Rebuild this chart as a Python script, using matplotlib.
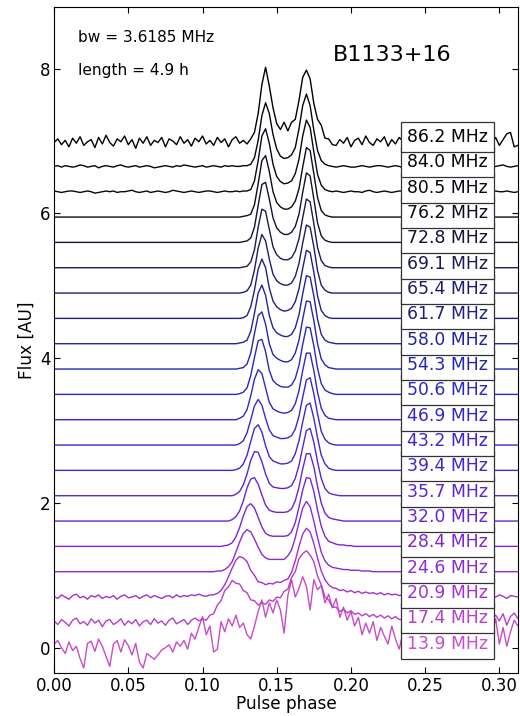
import numpy as np
import matplotlib.pyplot as plt
from matplotlib.colors import LinearSegmentedColormap

# observing frequencies (MHz), lowest first
freqs = [13.9, 17.4, 20.9, 24.6, 28.4, 32.0, 35.7, 39.4, 43.2, 46.9, 50.6,
         54.3, 58.0, 61.7, 65.4, 69.1, 72.8, 76.2, 80.5, 84.0, 86.2]

nbins = 126        # bins shown, 0 .. 0.3125 in phase
dphase = 0.0025    # phase per bin
spacing = 0.35     # vertical offset between channels

# noisy channels, stored bin by bin
p139 = [0.05, 0.10, 0.00, -0.08, 0.08, -0.04, 0.02, -0.15, -0.28, 0.06,
        0.09, -0.05, 0.12, 0.02, -0.12, -0.26, 0.05, 0.10, -0.06, 0.11,
        0.03, -0.10, 0.06, -0.20, -0.28, -0.08, -0.12, -0.16, -0.10, -0.03,
        0.00, 0.04, -0.06, 0.08, 0.02, 0.10, -0.02, 0.20, 0.12, 0.28,
        0.43, 0.18, 0.30, -0.06, -0.02, 0.36, 0.22, 0.40, 0.30, 0.45,
        0.28, 0.34, 0.18, 0.12, 0.30, 0.50, 0.66, 0.42, 0.62, 0.48,
        0.66, 0.52, 0.20, 0.72, 0.94, 0.70, 0.82, 0.98, 0.85, 0.52,
        0.94, 0.80, 0.86, 0.62, 0.74, 0.55, 0.68, 0.42, 0.56, 0.38,
        0.50, 0.30, 0.42, 0.18, 0.34, 0.20, 0.36, 0.10, 0.28, 0.16,
        0.05, 0.30, 0.12, -0.02, 0.20, 0.05, 0.25, 0.10, 0.30, 0.15,
        0.02, 0.22, 0.12, 0.28, 0.08, 0.18, 0.30, 0.10, 0.24, 0.05,
        0.20, 0.32, 0.12, 0.26, 0.06, 0.22, 0.14, 0.35, 0.18, 0.40,
        0.05, 0.28, 0.02, 0.22, 0.38, 0.30]
p174 = [0.02, -0.03, 0.04, 0.00, -0.05, 0.03, 0.06, -0.02, 0.01, -0.04,
        0.05, -0.01, 0.03, -0.06, 0.02, 0.04, -0.03, 0.00, 0.05, -0.04,
        0.02, -0.02, 0.04, -0.05, 0.01, 0.03, -0.03, 0.05, -0.01, 0.02,
        -0.04, 0.03, 0.06, -0.02, 0.01, 0.04, -0.03, 0.03, 0.06, 0.02,
        0.05, 0.03, 0.10, 0.12, 0.24, 0.30, 0.44, 0.49, 0.58, 0.54,
        0.53, 0.44, 0.41, 0.31, 0.30, 0.24, 0.27, 0.25, 0.31, 0.29,
        0.35, 0.34, 0.43, 0.46, 0.62, 0.70, 0.88, 0.95, 0.99, 0.93,
        0.84, 0.64, 0.52, 0.35, 0.31, 0.21, 0.21, 0.15, 0.18, 0.13,
        0.16, 0.11, 0.13, 0.09, 0.12, 0.08, 0.11, 0.07, 0.10, 0.06,
        0.09, 0.05, 0.08, 0.04, 0.04, 0.01, 0.06, 0.02, -0.02, 0.05,
        0.03, 0.00, 0.04, -0.03, 0.06, 0.02, 0.05, -0.01, 0.03, 0.07,
        0.00, 0.04, -0.02, 0.05, 0.02, 0.06, -0.01, 0.03, 0.04, 0.10,
        0.02, 0.12, -0.04, 0.08, 0.13, 0.05]
p209 = [0.01, -0.02, 0.03, 0.00, -0.03, 0.02, 0.04, -0.01, 0.01, -0.03,
        0.02, 0.00, 0.03, -0.02, 0.01, -0.01, 0.02, -0.03, 0.01, 0.03,
        -0.01, 0.00, 0.02, -0.02, 0.01, 0.03, -0.01, 0.02, 0.00, -0.02,
        0.01, 0.02, -0.01, 0.03, 0.00, 0.02, 0.01, 0.03, 0.02, 0.04,
        0.02, 0.01, 0.03, 0.03, 0.05, 0.09, 0.17, 0.28, 0.40, 0.51,
        0.56, 0.54, 0.49, 0.37, 0.30, 0.21, 0.20, 0.17, 0.19, 0.18,
        0.21, 0.20, 0.23, 0.25, 0.34, 0.50, 0.70, 0.87, 0.95, 0.90,
        0.74, 0.54, 0.36, 0.24, 0.17, 0.13, 0.12, 0.09, 0.10, 0.07,
        0.09, 0.06, 0.08, 0.05, 0.07, 0.05, 0.06, 0.04, 0.06, 0.03,
        0.05, 0.03, 0.04, 0.02, 0.03, 0.02, 0.02, 0.00, 0.03, 0.01,
        -0.01, 0.02, 0.00, 0.03, 0.01, -0.02, 0.02, 0.01, 0.03, 0.00,
        0.02, -0.01, 0.01, 0.03, 0.00, 0.02, 0.01, -0.01, 0.02, 0.00,
        0.03, 0.01, -0.02, 0.02, 0.01, 0.00]
p805 = [0.01, 0.00, -0.01, 0.00, 0.01, 0.01, 0.00, -0.01, 0.00, 0.01,
        0.00, -0.02, -0.01, 0.00, 0.01, 0.00, 0.01, -0.01, 0.00, 0.00,
        0.01, 0.02, 0.00, -0.01, 0.00, 0.01, -0.01, 0.00, 0.01, 0.00,
        -0.01, 0.00, 0.02, 0.01, 0.00, -0.01, 0.00, 0.01, 0.00, -0.01,
        0.00, 0.01, 0.01, 0.00, -0.01, 0.00, 0.01, 0.00, 0.00, 0.01,
        0.00, 0.01, 0.01, 0.03, 0.15, 0.43, 0.77, 0.87, 0.67, 0.38,
        0.21, 0.14, 0.11, 0.12, 0.15, 0.25, 0.45, 0.77, 0.99, 0.89,
        0.55, 0.24, 0.09, 0.03, 0.01, 0.00, 0.01, 0.00, -0.01, 0.00,
        0.01, 0.00, 0.00, -0.01, 0.01, 0.02, 0.00, -0.01, 0.00, 0.01,
        0.00, -0.01, 0.00, 0.01, 0.01, 0.00, -0.01, 0.00, 0.01, 0.00,
        0.00, 0.01, -0.01, 0.00, 0.01, 0.00, -0.01, 0.01, 0.00, 0.00,
        0.01, 0.00, -0.01, 0.00, 0.01, 0.01, 0.00, -0.01, 0.00, 0.01,
        0.00, 0.00, 0.01, 0.00, -0.01, 0.00]
p840 = [0.00, 0.01, -0.01, 0.01, 0.00, -0.01, 0.00, 0.02, 0.01, -0.01,
        0.00, 0.01, -0.02, 0.00, 0.01, 0.00, -0.01, 0.01, 0.02, 0.00,
        -0.01, 0.00, 0.01, -0.01, 0.00, 0.01, 0.00, -0.02, -0.01, 0.00,
        0.01, 0.00, -0.01, 0.01, 0.00, 0.02, 0.01, 0.00, -0.01, 0.00,
        0.01, -0.01, 0.00, 0.01, 0.00, -0.01, 0.01, 0.00, 0.01, 0.00,
        0.00, 0.01, 0.01, 0.03, 0.12, 0.36, 0.70, 0.88, 0.73, 0.44,
        0.24, 0.14, 0.11, 0.12, 0.16, 0.26, 0.52, 0.84, 1.00, 0.84,
        0.50, 0.22, 0.08, 0.03, 0.01, 0.00, -0.01, 0.00, 0.01, 0.00,
        -0.01, -0.01, 0.00, 0.01, 0.00, -0.01, 0.00, 0.01, 0.01, 0.00,
        -0.01, 0.00, 0.01, 0.00, -0.02, -0.01, 0.00, 0.01, 0.00, 0.00,
        -0.01, 0.01, 0.02, 0.01, 0.00, -0.01, 0.00, 0.01, 0.00, -0.01,
        0.00, 0.01, 0.00, 0.01, -0.01, 0.00, 0.01, 0.00, -0.01, 0.00,
        0.01, 0.02, 0.00, -0.01, 0.00, 0.01]
p862 = [-0.02, 0.03, -0.05, 0.01, -0.08, 0.04, -0.03, 0.06, -0.06, -0.01,
        0.02, -0.09, 0.05, -0.04, 0.08, -0.02, -0.07, 0.03, -0.01, 0.07,
        -0.05, 0.02, -0.10, 0.04, -0.03, 0.06, -0.06, 0.01, -0.02, 0.05,
        -0.08, 0.03, 0.00, -0.05, 0.06, -0.03, 0.02, -0.07, 0.04, -0.01,
        0.07, -0.04, 0.01, -0.06, 0.05, -0.02, 0.03, -0.08, 0.02, 0.06,
        -0.03, 0.01, -0.04, 0.03, 0.12, 0.38, 0.78, 1.02, 0.76, 0.46,
        0.24, 0.16, 0.26, 0.14, 0.26, 0.30, 0.56, 0.88, 0.98, 0.86,
        0.52, 0.30, 0.22, 0.04, 0.03, -0.05, -0.06, 0.02, -0.03, 0.05,
        -0.08, 0.01, 0.04, -0.05, 0.07, -0.02, -0.06, 0.03, -0.01, 0.06,
        -0.07, 0.02, -0.04, 0.05, 0.00, -0.08, 0.04, -0.02, 0.06, -0.05,
        0.01, -0.03, 0.07, -0.06, 0.02, -0.01, 0.05, -0.04, 0.03, -0.07,
        0.01, 0.06, -0.02, -0.05, 0.04, 0.00, 0.08, 0.03, -0.03, 0.05,
        -0.06, 0.02, 0.10, 0.12, -0.08, -0.06]

# cleaner channels: first on-pulse bin and the values from there on
p246 = (44, [0.01, 0.01, 0.03, 0.07, 0.14, 0.27, 0.41, 0.53, 0.58, 0.55,
             0.45, 0.34, 0.24, 0.19, 0.17, 0.17, 0.17, 0.17, 0.17, 0.22,
             0.30, 0.47, 0.68, 0.88, 0.97, 0.90, 0.70, 0.47, 0.27, 0.15,
             0.09, 0.06, 0.05, 0.04, 0.03, 0.03, 0.02, 0.02, 0.02, 0.01,
             0.01, 0.01])
p284 = (46, [0.01, 0.02, 0.05, 0.13, 0.26, 0.42, 0.55, 0.59, 0.53, 0.40,
             0.27, 0.18, 0.15, 0.14, 0.14, 0.14, 0.14, 0.15, 0.20, 0.33,
             0.54, 0.78, 0.95, 0.94, 0.76, 0.50, 0.28, 0.14, 0.07, 0.05,
             0.03, 0.02, 0.02, 0.01, 0.01])
p320 = (48, [0.02, 0.06, 0.14, 0.28, 0.46, 0.58, 0.60, 0.51, 0.36, 0.22,
             0.15, 0.13, 0.12, 0.12, 0.12, 0.13, 0.17, 0.28, 0.47, 0.72,
             0.93, 0.93, 0.75, 0.48, 0.25, 0.11, 0.05, 0.03, 0.02, 0.01])
p357 = (49, [0.02, 0.06, 0.15, 0.30, 0.49, 0.61, 0.60, 0.47, 0.30, 0.17,
             0.12, 0.11, 0.10, 0.10, 0.11, 0.14, 0.24, 0.42, 0.67, 0.90,
             0.93, 0.74, 0.47, 0.24, 0.10, 0.04, 0.02, 0.01])
p394 = (49, [0.01, 0.03, 0.09, 0.21, 0.40, 0.58, 0.63, 0.53, 0.34, 0.19,
             0.13, 0.11, 0.09, 0.09, 0.10, 0.13, 0.23, 0.41, 0.67, 0.90,
             0.93, 0.72, 0.45, 0.21, 0.09, 0.03, 0.01])
p432 = (50, [0.02, 0.06, 0.17, 0.35, 0.54, 0.63, 0.55, 0.37, 0.21, 0.13,
             0.11, 0.09, 0.09, 0.10, 0.13, 0.22, 0.40, 0.66, 0.90, 0.93,
             0.71, 0.43, 0.19, 0.08, 0.03, 0.01])
p469 = (50, [0.02, 0.05, 0.14, 0.33, 0.56, 0.69, 0.64, 0.44, 0.24, 0.15,
             0.12, 0.10, 0.09, 0.10, 0.13, 0.22, 0.40, 0.68, 0.92, 0.92,
             0.68, 0.38, 0.16, 0.06, 0.02, 0.01])
p506 = (50, [0.01, 0.03, 0.09, 0.26, 0.51, 0.74, 0.76, 0.59, 0.33, 0.19,
             0.14, 0.11, 0.10, 0.10, 0.13, 0.22, 0.40, 0.69, 0.93, 0.92,
             0.67, 0.36, 0.15, 0.06, 0.03, 0.01])
p543 = (50, [0.01, 0.02, 0.07, 0.22, 0.49, 0.74, 0.79, 0.62, 0.35, 0.20,
             0.15, 0.12, 0.10, 0.10, 0.13, 0.22, 0.40, 0.69, 0.94, 0.93,
             0.67, 0.35, 0.14, 0.06, 0.02, 0.01])
p580 = (50, [0.01, 0.02, 0.05, 0.17, 0.42, 0.70, 0.81, 0.67, 0.39, 0.22,
             0.15, 0.12, 0.10, 0.10, 0.13, 0.22, 0.40, 0.69, 0.94, 0.92,
             0.66, 0.34, 0.13, 0.05, 0.02, 0.01])
p617 = (51, [0.01, 0.04, 0.16, 0.39, 0.68, 0.82, 0.70, 0.42, 0.24, 0.16,
             0.12, 0.10, 0.11, 0.14, 0.23, 0.41, 0.69, 0.94, 0.91, 0.64,
             0.31, 0.11, 0.04, 0.01])
p654 = (51, [0.01, 0.03, 0.11, 0.32, 0.62, 0.81, 0.72, 0.47, 0.26, 0.17,
             0.13, 0.11, 0.11, 0.14, 0.23, 0.41, 0.69, 0.94, 0.91, 0.64,
             0.31, 0.11, 0.04, 0.01])
p691 = (51, [0.01, 0.02, 0.08, 0.25, 0.56, 0.81, 0.78, 0.53, 0.29, 0.18,
             0.13, 0.11, 0.11, 0.14, 0.23, 0.40, 0.69, 0.95, 0.91, 0.61,
             0.28, 0.10, 0.03, 0.01])
p728 = (51, [0.01, 0.02, 0.06, 0.21, 0.51, 0.80, 0.83, 0.60, 0.34, 0.20,
             0.14, 0.11, 0.11, 0.14, 0.22, 0.39, 0.69, 0.96, 0.92, 0.60,
             0.27, 0.09, 0.03, 0.01])
p762 = (51, [0.01, 0.02, 0.04, 0.17, 0.46, 0.78, 0.85, 0.63, 0.35, 0.20,
             0.14, 0.11, 0.11, 0.14, 0.22, 0.39, 0.69, 0.96, 0.92, 0.60,
             0.27, 0.09, 0.03, 0.01])

# line and label colours, black at the top channel to magenta at the bottom
cmap_stops = [(0.0, '#000000'), (0.16, '#0c0c1c'), (0.25, '#1a1a54'),
              (0.4, '#2222a0'), (0.5, '#2828c4'), (0.65, '#4624d4'),
              (0.8, '#7a26d4'), (0.9, '#a030d0'), (1.0, '#c84cc8')]
chan_cmap = LinearSegmentedColormap.from_list('chan', cmap_stops)


def full_profile(p):
    # expand a (start bin, values) pair to the full phase range
    if isinstance(p, tuple):
        start, vals = p
        prof = np.zeros(nbins)
        prof[start:start + len(vals)] = vals
        return prof
    return np.asarray(p, dtype=float)


profiles = [p139, p174, p209, p246, p284, p320, p357, p394, p432, p469, p506,
            p543, p580, p617, p654, p691, p728, p762, p805, p840, p862]

fig, ax = plt.subplots(figsize=(5.2, 7.16), dpi=100)
fig.subplots_adjust(left=0.104, right=0.996, top=0.990, bottom=0.060)

colors = chan_cmap(np.linspace(1.0, 0.0, len(freqs)))

for i, (f, p) in enumerate(zip(freqs, profiles)):
    prof = full_profile(p)
    phase = np.arange(len(prof)) * dphase
    off = i * spacing
    ax.plot(phase, prof + off, color=colors[i], lw=1.0)
    ax.text(0.238, off + 0.055, '%.1f MHz' % f, color=colors[i],
            fontsize=12.4, ha='left', va='center',
            bbox=dict(boxstyle='square,pad=0.35', fc='white', ec='0.2', lw=0.9))

ax.text(0.0162, 8.43, 'bw = 3.6185 MHz', fontsize=11.1, va='center')
ax.text(0.0162, 7.97, 'length = 4.9 h', fontsize=11.1, va='center')
ax.text(0.188, 8.19, 'B1133+16', fontsize=16, va='center')

ax.set_xlim(0, 0.3125)
ax.set_ylim(-0.35, 8.85)
ticks = np.arange(0, 0.31, 0.05)
ax.set_xticks(ticks)
ax.set_xticklabels(['%.2f' % t for t in ticks])
ax.set_yticks([0, 2, 4, 6, 8])
ax.tick_params(direction='in', top=True, right=True, length=4, pad=2.5,
               labelsize=12)
ax.set_xlabel('Pulse phase', fontsize=12.2, labelpad=0.5)
ax.set_ylabel('Flux [AU]', fontsize=12.2, labelpad=3)

fig.savefig('out.png', dpi=100)
